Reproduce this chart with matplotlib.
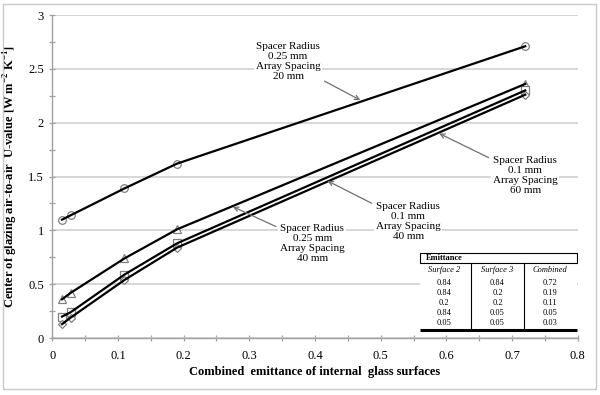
import matplotlib
matplotlib.use("Agg")
import matplotlib.pyplot as plt
from matplotlib.patches import Rectangle
from matplotlib.ticker import MultipleLocator

plt.rcParams['font.family'] = ['Liberation Serif', 'DejaVu Serif']
plt.rcParams['mathtext.fontset'] = 'custom'
plt.rcParams['mathtext.rm'] = 'Liberation Serif'
plt.rcParams['mathtext.bf'] = 'Liberation Serif:bold'

# combined emittance (x) and U-value series
x = [0.015, 0.028, 0.11, 0.19, 0.72]
u_r025_s20 = [1.10, 1.14, 1.39, 1.62, 2.71]   # circles
u_r025_s40 = [0.36, 0.42, 0.74, 1.01, 2.36]   # triangles
u_r01_s40 = [0.20, 0.24, 0.59, 0.88, 2.30]    # squares
u_r01_s60 = [0.13, 0.19, 0.54, 0.84, 2.26]    # diamonds

# emittance table
surface2 = ["0.84", "0.84", "0.2", "0.84", "0.05"]
surface3 = ["0.84", "0.2", "0.2", "0.05", "0.05"]
combined = ["0.72", "0.19", "0.11", "0.05", "0.03"]

fig = plt.figure(figsize=(6, 3.95), dpi=100)
ax = fig.add_axes([0.087, 0.144, 0.876, 0.818])

series = [(u_r025_s20, 'o'), (u_r025_s40, '^'), (u_r01_s40, 's'), (u_r01_s60, 'D')]
for y, m in series:
    ms = 4.5 if m == 'D' else 5.5
    ax.plot(x, y, linestyle='none', marker=m, ms=ms, mfc='white', mec='#808080',
            mew=0.9, zorder=3)
    ax.plot(x, y, '-', color='black', lw=1.6, zorder=4)

ax.set_xlim(0, 0.8)
ax.set_ylim(0, 3)
ax.xaxis.set_major_locator(MultipleLocator(0.1))
ax.xaxis.set_minor_locator(MultipleLocator(0.05))
ax.yaxis.set_major_locator(MultipleLocator(0.5))
ax.yaxis.set_minor_locator(MultipleLocator(0.25))
ax.xaxis.set_major_formatter(lambda v, p: '0' if v == 0 else f'{v:g}')
ax.yaxis.set_major_formatter(lambda v, p: f'{v:g}')

ax.grid(True, axis='y', color='#d4d4d4', lw=1.3, zorder=0)
for s in ['top', 'right']:
    ax.spines[s].set_visible(False)
for s in ['left', 'bottom']:
    ax.spines[s].set_color('#a0a0a0')
    ax.spines[s].set_linewidth(1.0)
ax.tick_params(axis='both', which='both', direction='inout', color='#a0a0a0',
               labelsize=9, length=5, width=0.9)
ax.tick_params(axis='x', pad=6)

ax.set_xlabel('Combined  emittance of internal  glass surfaces', fontsize=9,
              fontweight='bold', labelpad=3)
ax.set_ylabel('Center of glazing air-to-air  U-value [W m$^{\\mathbf{-2}}$ K$^{\\mathbf{-1}}$]',
              fontsize=9, fontweight='bold', labelpad=6)

box = dict(boxstyle='square,pad=0.15', fc='white', ec='none')
arrow = dict(arrowstyle='->', color='#707070', lw=0.9, shrinkA=2, shrinkB=0)
notes = [
    ("Spacer Radius\n0.25 mm\nArray Spacing\n20 mm", (0.469, 2.21), (0.359, 2.565)),
    ("Spacer Radius\n0.1 mm\nArray Spacing\n60 mm", (0.589, 1.90), (0.72, 1.51)),
    ("Spacer Radius\n0.1 mm\nArray Spacing\n40 mm", (0.419, 1.46), (0.542, 1.08)),
    ("Spacer Radius\n0.25 mm\nArray Spacing\n40 mm", (0.275, 1.22), (0.396, 0.88)),
]
for txt, tip, pos in notes:
    ax.annotate(txt, xy=tip, xytext=pos, ha='center', va='center', fontsize=8,
                linespacing=1.15, bbox=box, arrowprops=arrow, zorder=6)

# emittance table in axes fraction
tr = ax.transAxes
L, R = 0.700, 0.998
ax.add_patch(Rectangle((L, 0.025), R - L, 0.238, transform=tr, fc='white', ec='none', zorder=5))
ax.add_patch(Rectangle((L, 0.232), R - L, 0.031, transform=tr, fill=False, ec='black', lw=0.8, zorder=6))
ax.text(L + 0.01, 0.2475, 'Emittance', transform=tr, fontsize=6, fontweight='bold',
        va='center', ha='left', zorder=7)
for xd in [0.797, 0.897]:
    ax.plot([xd, xd], [0.025, 0.232], transform=tr, color='black', lw=0.8, zorder=7)
ax.plot([L, R], [0.025, 0.025], transform=tr, color='black', lw=2.2, zorder=7,
        solid_capstyle='butt')
cols = [0.745, 0.847, 0.947]
for cx, head in zip(cols, ['Surface 2', 'Surface 3', 'Combined']):
    ax.text(cx, 0.211, head, transform=tr, fontsize=6, style='italic', ha='center',
            va='center', zorder=7)
rows_y = [0.170, 0.139, 0.108, 0.077, 0.046]
for ry, a, b, c in zip(rows_y, surface2, surface3, combined):
    for cx, v in zip(cols, [a, b, c]):
        ax.text(cx, ry, v, transform=tr, fontsize=6, ha='center', va='center', zorder=7)

fig.patches.append(Rectangle((0.005, 0.015), 0.988, 0.975, transform=fig.transFigure,
                             fill=False, ec='#c8c8c8', lw=1.0))

fig.savefig('out.png', dpi=100)
